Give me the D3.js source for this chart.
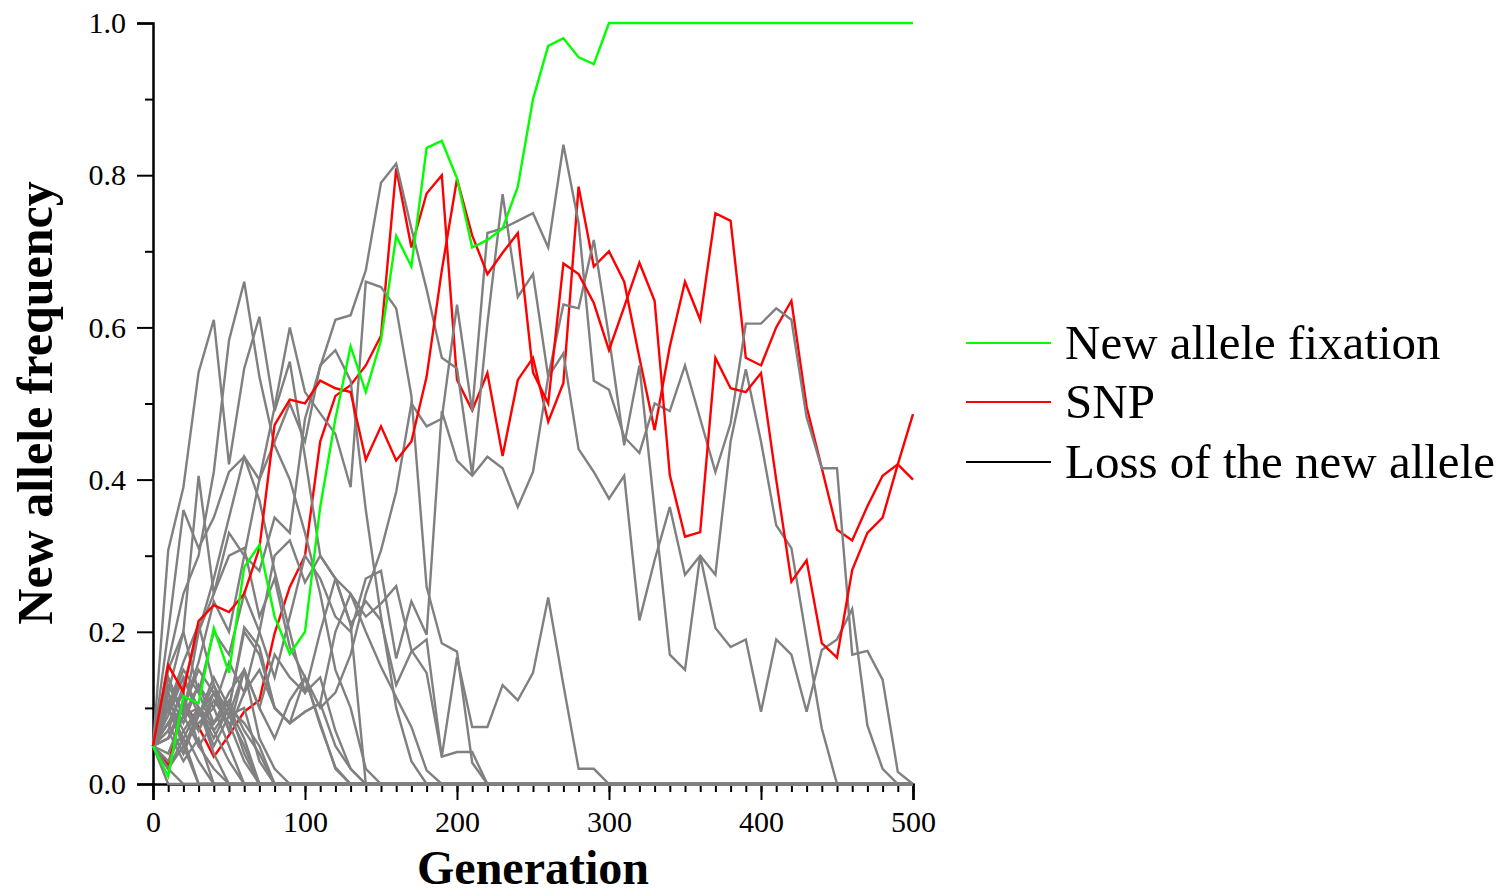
<!DOCTYPE html>
<html><head><meta charset="utf-8">
<script src="https://cdn.jsdelivr.net/npm/d3@7"></script>
<style>body{margin:0;background:#fff}svg{display:block}</style>
</head><body>
<svg id="chart" width="1506" height="896"></svg>
<script>
// Generations sampled every 10
const generations = [0,10,20,30,40,50,60,70,80,90,100,110,120,130,140,150,160,170,180,190,200,210,220,230,240,250,260,270,280,290,300,310,320,330,340,350,360,370,380,390,400,410,420,430,440,450,460,470,480,490,500];
const xTickLabels = [0,100,200,300,400,500];
const yTickLabels = [0,0.2,0.4,0.6,0.8,1.0];
const legendLabels = ["New allele fixation","SNP","Loss of the new allele"];

// New allele fixation (green)
const fixation = [0.05,0.01,0.115,0.106,0.205,0.146,0.285,0.314,0.22,0.171,0.2,0.364,0.48,0.575,0.515,0.583,0.72,0.68,0.836,0.845,0.796,0.705,0.715,0.73,0.785,0.9,0.97,0.98,0.955,0.946,1,1,1,1,1,1,1,1,1,1,1,1,1,1,1,1,1,1,1,1,1];

// SNP (red)
const snpA = [0.05,0.025,0.11,0.075,0.036,0.064,0.095,0.11,0.198,0.259,0.30,0.45,0.51,0.524,0.55,0.589,0.809,0.705,0.776,0.80,0.531,0.491,0.54,0.431,0.531,0.56,0.476,0.527,0.785,0.68,0.70,0.66,0.56,0.465,0.575,0.66,0.61,0.75,0.74,0.56,0.55,0.60,0.635,0.496,0.415,0.334,0.32,0.365,0.405,0.42,0.40];
const snpB = [0.05,0.156,0.121,0.214,0.235,0.226,0.25,0.31,0.472,0.505,0.50,0.53,0.52,0.515,0.426,0.47,0.425,0.45,0.535,0.675,0.795,0.721,0.67,0.698,0.724,0.541,0.50,0.684,0.67,0.632,0.57,0.627,0.685,0.635,0.406,0.325,0.331,0.56,0.52,0.515,0.54,0.40,0.266,0.294,0.185,0.166,0.281,0.33,0.35,0.42,0.486];

// Loss of the new allele (gray)
const lossA  = [0.05,0.02,0.06,0.1,0.08,0.12,0.15,0.1,0.06,0.11,0.14,0.1,0.12,0.17,0.25,0.307,0.384,0.5,0.47,0.48,0.63,0.49,0.724,0.73,0.74,0.75,0.705,0.84,0.737,0.53,0.518,0.456,0.435,0.5,0.49,0.55,0.48,0.41,0.474,0.605,0.605,0.625,0.61,0.482,0.415,0.415,0.17,0.175,0.137,0.016,0];
const lossB  = [0.05,0.08,0.1,0.16,0.24,0.2,0.3,0.28,0.35,0.33,0.48,0.548,0.61,0.616,0.675,0.79,0.815,0.73,0.65,0.56,0.546,0.406,0.605,0.775,0.64,0.67,0.535,0.63,0.625,0.715,0.587,0.445,0.55,0.36,0.17,0.15,0.30,0.205,0.18,0.19,0.095,0.19,0.17,0.095,0.176,0.19,0.23,0.077,0.02,0,0];
const lossC  = [0.05,0.1,0.15,0.12,0.2,0.17,0.25,0.2,0.14,0.22,0.3,0.27,0.22,0.2,0.27,0.28,0.165,0.24,0.196,0.49,0.425,0.405,0.43,0.415,0.364,0.41,0.535,0.566,0.44,0.41,0.375,0.405,0.215,0.294,0.364,0.275,0.30,0.275,0.45,0.545,0.45,0.34,0.31,0.19,0.073,0,0,0,0,0,0];
const lossD  = [0.05,0.14,0.09,0.2,0.25,0.33,0.3,0.4,0.495,0.60,0.515,0.487,0.46,0.39,0.66,0.653,0.625,0.51,0.259,0.185,0.174,0.028,0,0,0,0,0,0,0,0,0,0,0,0,0,0,0,0,0,0,0,0,0,0,0,0,0,0,0,0,0];
const lossE  = [0.05,0.307,0.39,0.541,0.61,0.42,0.546,0.614,0.49,0.555,0.43,0.3,0.27,0.21,0,0,0,0,0,0,0,0,0,0,0,0,0,0,0,0,0,0,0,0,0,0,0,0,0,0,0,0,0,0,0,0,0,0,0,0,0];
const lossF  = [0.05,0.16,0.25,0.3,0.41,0.583,0.66,0.535,0.445,0.4,0.33,0.25,0.15,0.1,0.02,0,0,0,0,0,0,0,0,0,0,0,0,0,0,0,0,0,0,0,0,0,0,0,0,0,0,0,0,0,0,0,0,0,0,0,0];
const lossG  = [0.05,0.2,0.36,0.31,0.35,0.41,0.43,0.373,0.28,0.2,0.12,0.14,0.07,0.02,0,0,0,0,0,0,0,0,0,0,0,0,0,0,0,0,0,0,0,0,0,0,0,0,0,0,0,0,0,0,0,0,0,0,0,0,0];
const lossH  = [0.05,0.12,0.2,0.405,0.25,0.3,0.31,0.22,0.27,0.18,0.14,0.08,0.02,0,0,0,0,0,0,0,0,0,0,0,0,0,0,0,0,0,0,0,0,0,0,0,0,0,0,0,0,0,0,0,0,0,0,0,0,0,0];
const lossI  = [0.05,0.1,0.05,0.09,0.14,0.1,0.2,0.17,0.1,0.08,0.095,0.106,0.2,0.25,0.22,0.237,0.26,0.176,0.146,0.036,0.167,0.075,0.075,0.13,0.11,0.146,0.245,0.13,0.02,0.02,0,0,0,0,0,0,0,0,0,0,0,0,0,0,0,0,0,0,0,0,0];
const lossJ  = [0.05,0.12,0.08,0.13,0.1,0.16,0.12,0.2,0.3,0.32,0.265,0.3,0.27,0.21,0.24,0.215,0.13,0.174,0.19,0.036,0.042,0.042,0,0,0,0,0,0,0,0,0,0,0,0,0,0,0,0,0,0,0,0,0,0,0,0,0,0,0,0,0];
const lossK  = [0.05,0.06,0.11,0.07,0.12,0.09,0.15,0.1,0.17,0.14,0.12,0.2,0.27,0.25,0.2,0.154,0.114,0.075,0.018,0,0,0,0,0,0,0,0,0,0,0,0,0,0,0,0,0,0,0,0,0,0,0,0,0,0,0,0,0,0,0,0];
const lossL  = [0.05,0.08,0.04,0.09,0.13,0.07,0.12,0.15,0.1,0.08,0.14,0.077,0.022,0,0,0,0,0,0,0,0,0,0,0,0,0,0,0,0,0,0,0,0,0,0,0,0,0,0,0,0,0,0,0,0,0,0,0,0,0,0];
const lossM  = [0.05,0.1,0.14,0.1,0.06,0.1,0.206,0.18,0.1,0.08,0.095,0.106,0.05,0.02,0,0,0,0,0,0,0,0,0,0,0,0,0,0,0,0,0,0,0,0,0,0,0,0,0,0,0,0,0,0,0,0,0,0,0,0,0];
const lossN  = [0.05,0.07,0.13,0.2,0.27,0.35,0.43,0.4,0.45,0.5,0.45,0.55,0.57,0.53,0.36,0.22,0.1,0.03,0,0,0,0,0,0,0,0,0,0,0,0,0,0,0,0,0,0,0,0,0,0,0,0,0,0,0,0,0,0,0,0,0];
const lossS1 = [0.05,0,0,0,0,0,0,0,0,0,0,0,0,0,0,0,0,0,0,0,0,0,0,0,0,0,0,0,0,0,0,0,0,0,0,0,0,0,0,0,0,0,0,0,0,0,0,0,0,0,0];
const lossS2 = [0.05,0.02,0,0,0,0,0,0,0,0,0,0,0,0,0,0,0,0,0,0,0,0,0,0,0,0,0,0,0,0,0,0,0,0,0,0,0,0,0,0,0,0,0,0,0,0,0,0,0,0,0];
const lossS3 = [0.05,0.1,0.06,0,0,0,0,0,0,0,0,0,0,0,0,0,0,0,0,0,0,0,0,0,0,0,0,0,0,0,0,0,0,0,0,0,0,0,0,0,0,0,0,0,0,0,0,0,0,0,0];
const lossS4 = [0.05,0.08,0.12,0.05,0.02,0,0,0,0,0,0,0,0,0,0,0,0,0,0,0,0,0,0,0,0,0,0,0,0,0,0,0,0,0,0,0,0,0,0,0,0,0,0,0,0,0,0,0,0,0,0];
const lossS5 = [0.05,0.13,0.09,0.1,0.04,0,0,0,0,0,0,0,0,0,0,0,0,0,0,0,0,0,0,0,0,0,0,0,0,0,0,0,0,0,0,0,0,0,0,0,0,0,0,0,0,0,0,0,0,0,0];
const lossS6 = [0.05,0.06,0.1,0.07,0.11,0.08,0.03,0,0,0,0,0,0,0,0,0,0,0,0,0,0,0,0,0,0,0,0,0,0,0,0,0,0,0,0,0,0,0,0,0,0,0,0,0,0,0,0,0,0,0,0];
const lossS7 = [0.05,0.15,0.2,0.12,0.07,0.1,0.04,0,0,0,0,0,0,0,0,0,0,0,0,0,0,0,0,0,0,0,0,0,0,0,0,0,0,0,0,0,0,0,0,0,0,0,0,0,0,0,0,0,0,0,0];
const lossS8 = [0.05,0.03,0.07,0.1,0.05,0.09,0.1,0.03,0,0,0,0,0,0,0,0,0,0,0,0,0,0,0,0,0,0,0,0,0,0,0,0,0,0,0,0,0,0,0,0,0,0,0,0,0,0,0,0,0,0,0];
const lossS9 = [0.05,0.11,0.07,0.03,0,0,0,0,0,0,0,0,0,0,0,0,0,0,0,0,0,0,0,0,0,0,0,0,0,0,0,0,0,0,0,0,0,0,0,0,0,0,0,0,0,0,0,0,0,0,0];
const lossS10= [0.05,0.09,0.14,0.09,0.12,0.07,0.15,0.06,0.02,0,0,0,0,0,0,0,0,0,0,0,0,0,0,0,0,0,0,0,0,0,0,0,0,0,0,0,0,0,0,0,0,0,0,0,0,0,0,0,0,0,0];
const lossS11= [0.05,0.04,0.09,0.05,0.08,0.1,0.06,0,0,0,0,0,0,0,0,0,0,0,0,0,0,0,0,0,0,0,0,0,0,0,0,0,0,0,0,0,0,0,0,0,0,0,0,0,0,0,0,0,0,0,0];
const lossS12= [0.05,0.12,0.05,0,0,0,0,0,0,0,0,0,0,0,0,0,0,0,0,0,0,0,0,0,0,0,0,0,0,0,0,0,0,0,0,0,0,0,0,0,0,0,0,0,0,0,0,0,0,0,0];
const lossS13= [0.05,0.07,0.03,0.06,0,0,0,0,0,0,0,0,0,0,0,0,0,0,0,0,0,0,0,0,0,0,0,0,0,0,0,0,0,0,0,0,0,0,0,0,0,0,0,0,0,0,0,0,0,0,0];
const lossS14= [0.05,0.1,0.16,0.21,0.13,0.09,0.05,0,0,0,0,0,0,0,0,0,0,0,0,0,0,0,0,0,0,0,0,0,0,0,0,0,0,0,0,0,0,0,0,0,0,0,0,0,0,0,0,0,0,0,0];
const lossS15= [0.05,0.14,0.09,0.13,0.08,0.11,0.07,0.04,0,0,0,0,0,0,0,0,0,0,0,0,0,0,0,0,0,0,0,0,0,0,0,0,0,0,0,0,0,0,0,0,0,0,0,0,0,0,0,0,0,0,0];
const lossS16= [0.05,0.02,0.05,0.08,0.1,0.05,0,0,0,0,0,0,0,0,0,0,0,0,0,0,0,0,0,0,0,0,0,0,0,0,0,0,0,0,0,0,0,0,0,0,0,0,0,0,0,0,0,0,0,0,0];
const lossS17= [0.05,0.08,0.04,0.1,0.07,0.03,0,0,0,0,0,0,0,0,0,0,0,0,0,0,0,0,0,0,0,0,0,0,0,0,0,0,0,0,0,0,0,0,0,0,0,0,0,0,0,0,0,0,0,0,0];
const lossS18= [0.05,0.06,0.1,0.15,0.12,0.1,0.08,0.05,0,0,0,0,0,0,0,0,0,0,0,0,0,0,0,0,0,0,0,0,0,0,0,0,0,0,0,0,0,0,0,0,0,0,0,0,0,0,0,0,0,0,0];

const lossSeries = [lossS1,lossS2,lossS3,lossS4,lossS5,lossS6,lossS7,lossS8,lossS9,lossS10,lossS11,lossS12,lossS13,lossS14,lossS15,lossS16,lossS17,lossS18,
  lossN,lossM,lossL,lossK,lossJ,lossI,lossH,lossG,lossF,lossE,lossD,lossC,lossB,lossA];

const svg = d3.select("#chart");
const margin = {left:153, right:913, top:23, bottom:784};
const x = d3.scaleLinear().domain([0,500]).range([margin.left, margin.right]);
const y = d3.scaleLinear().domain([0,1]).range([margin.bottom, margin.top]);

const serif = "'Liberation Serif','Times New Roman',serif";

// Axes
const gx = svg.append("g").attr("transform",`translate(0,${margin.bottom})`);
gx.call(d3.axisBottom(x).tickValues(generations).tickSize(8).tickFormat(""));
gx.call(g=>g.select(".domain").remove());
const gx2 = svg.append("g").attr("transform",`translate(0,${margin.bottom})`)
  .call(d3.axisBottom(x).tickValues(xTickLabels).tickSize(16).tickPadding(11).tickFormat(d3.format("d")));
const gy = svg.append("g").attr("transform",`translate(${margin.left},0)`);
gy.call(d3.axisLeft(y).tickValues([0.1,0.3,0.5,0.7,0.9]).tickSize(8).tickFormat(""));
gy.call(g=>g.select(".domain").remove());
const gy2 = svg.append("g").attr("transform",`translate(${margin.left},0)`)
  .call(d3.axisLeft(y).tickValues(yTickLabels).tickSize(16).tickPadding(11).tickFormat(d3.format(".1f")));
svg.selectAll(".tick line").attr("stroke","#000").attr("stroke-width",2);
svg.selectAll(".domain").attr("stroke","#000").attr("stroke-width",2.5);
svg.selectAll(".tick text").attr("font-family",serif).attr("font-size",30).attr("fill","#000");

// Lines
const line = d3.line().x((d,i)=>x(generations[i])).y(d=>y(d));
const plot = svg.append("g");
plot.append("path").datum(snpA).attr("d",line).attr("fill","none").attr("stroke","#ff0000").attr("stroke-width",2.4);
plot.selectAll("path.loss").data(lossSeries).join("path").attr("class","loss")
  .attr("d",line).attr("fill","none").attr("stroke","#808080").attr("stroke-width",2.4).attr("stroke-linejoin","miter");
plot.append("path").datum(snpB).attr("d",line).attr("fill","none").attr("stroke","#ff0000").attr("stroke-width",2.4);
plot.append("path").datum(fixation).attr("d",line).attr("fill","none").attr("stroke","#00ff00").attr("stroke-width",2.4);

// Axis titles
svg.append("text").attr("x",533).attr("y",884).attr("text-anchor","middle")
  .attr("font-family",serif).attr("font-weight","bold").attr("font-size",48).text("Generation");
svg.append("text").attr("transform","translate(52,403) rotate(-90)").attr("text-anchor","middle")
  .attr("font-family",serif).attr("font-weight","bold").attr("font-size",50).text("New allele frequency");

// Legend
const legendColors = ["#00ff00","#ff0000","#000000"];
const legendY = [343,402,462];
legendLabels.forEach((lab,i)=>{
  svg.append("line").attr("x1",966).attr("x2",1051).attr("y1",legendY[i]).attr("y2",legendY[i])
    .attr("stroke",legendColors[i]).attr("stroke-width",2.2);
  svg.append("text").attr("x",1065).attr("y",legendY[i]+16).attr("font-family",serif)
    .attr("font-size",49).attr("fill","#000").text(lab);
});
</script>
</body></html>
